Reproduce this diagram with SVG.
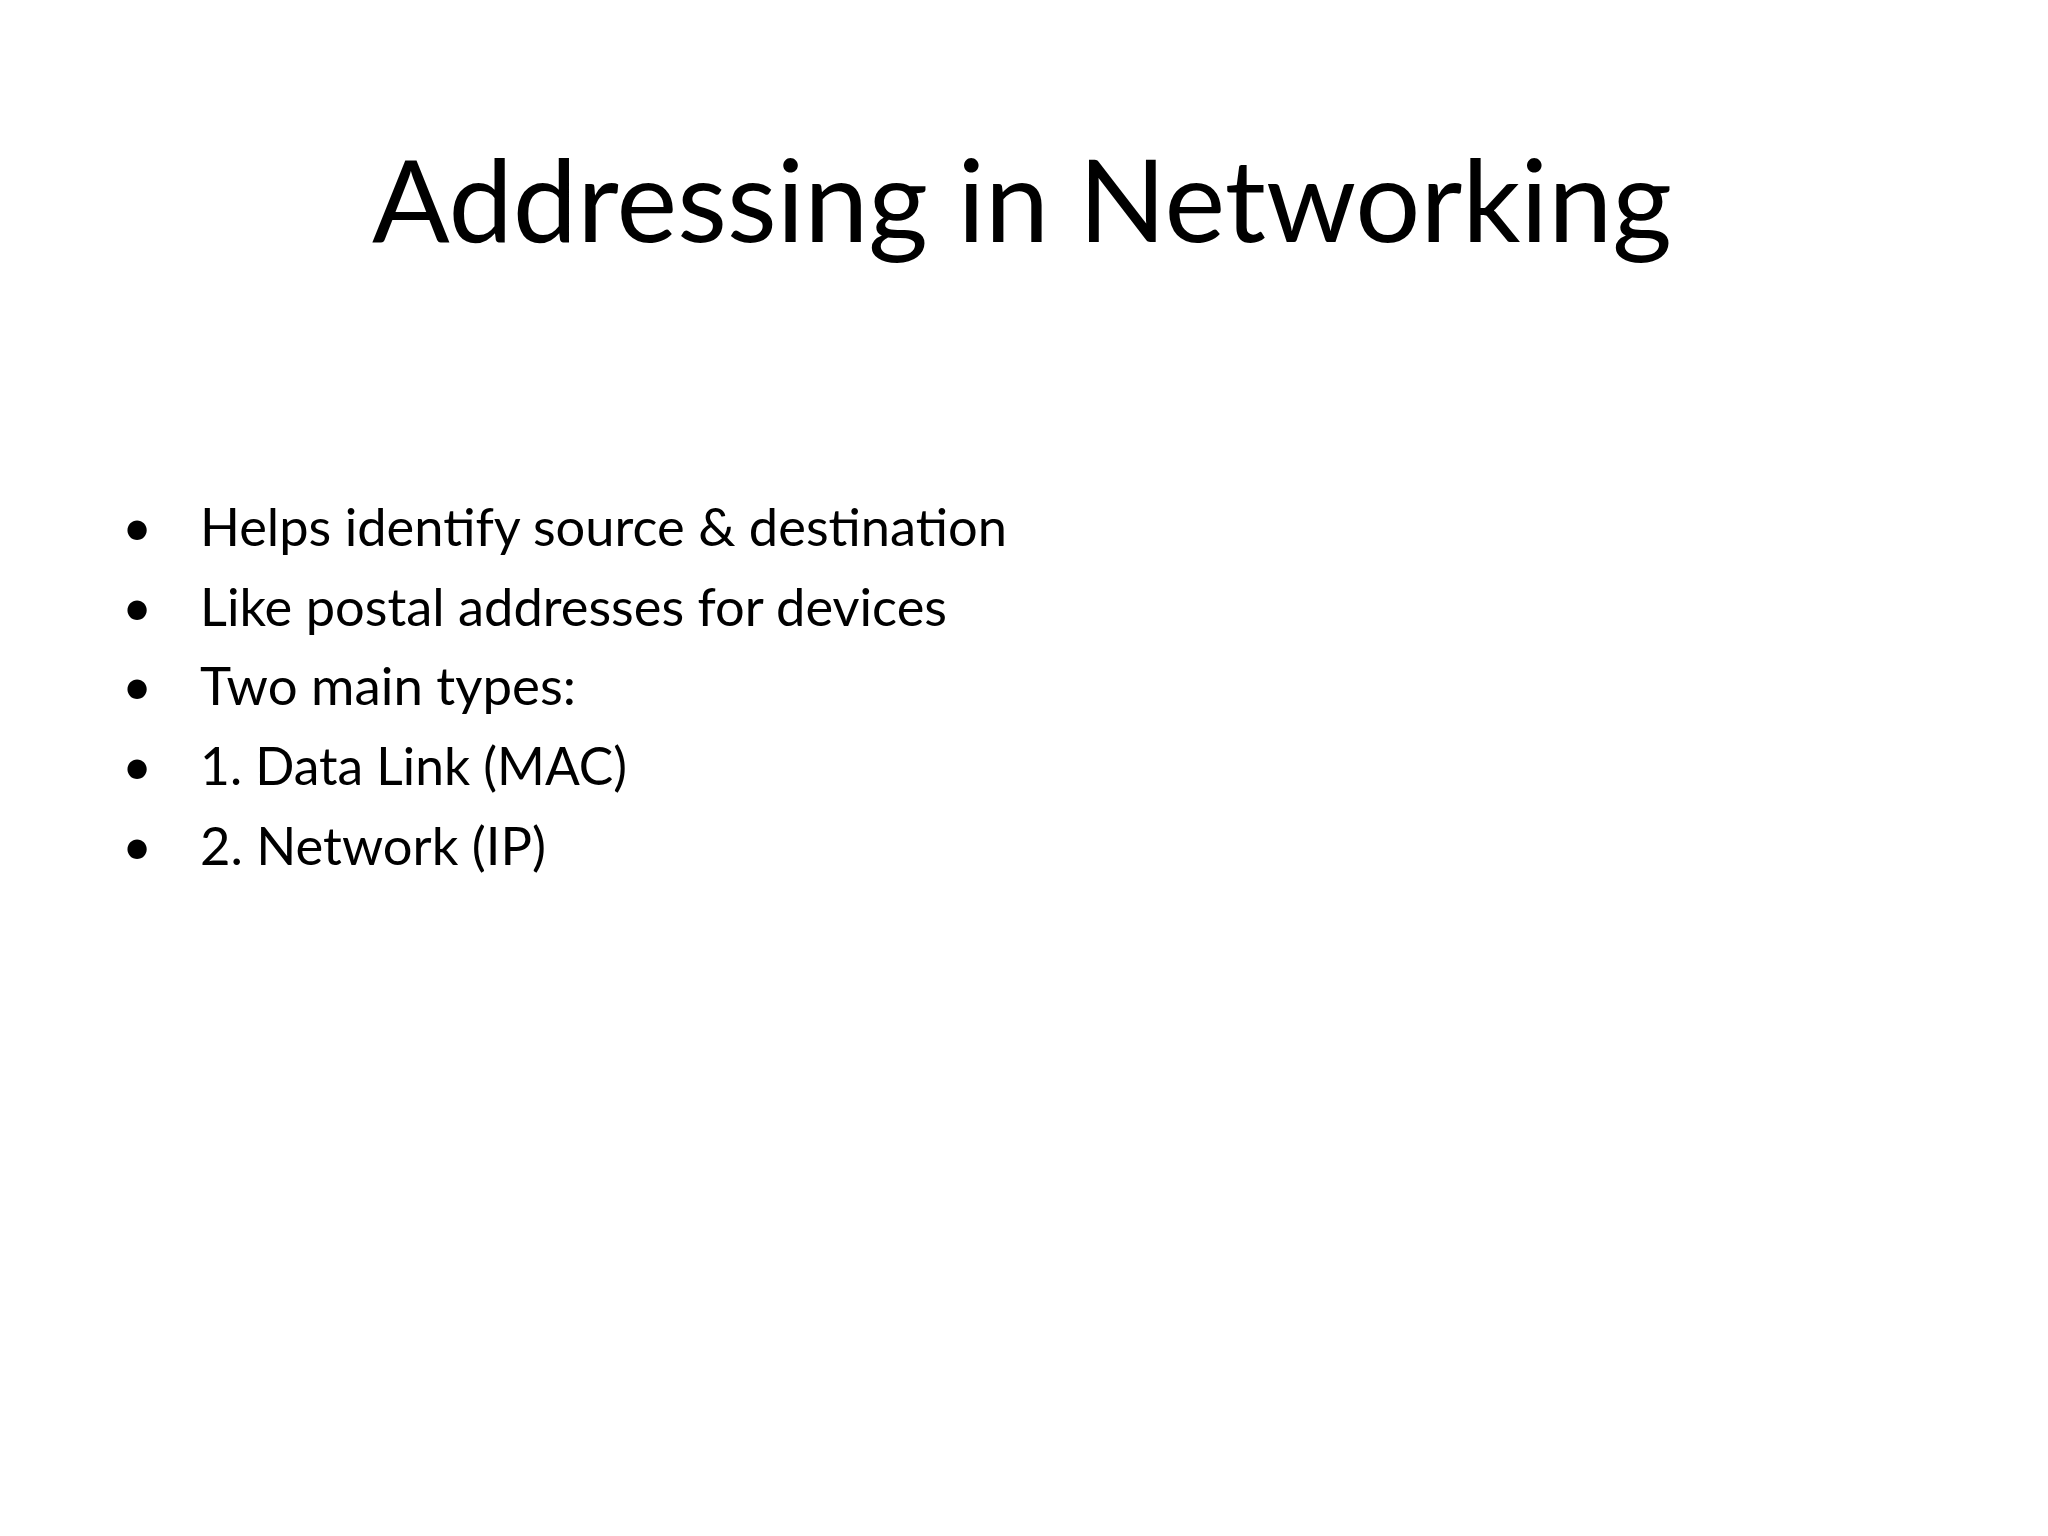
<svg xmlns="http://www.w3.org/2000/svg" width="2048" height="1536" viewBox="0 0 2048 1536">
<style>
.t{font-family:Lato,"Liberation Sans",sans-serif;fill:#000}
.b{font-family:Lato,"Liberation Sans",sans-serif;fill:#000;font-size:52px}
</style>
<rect width="2048" height="1536" fill="#fff"/>
<g id="title"><text class="t" x="372" y="242" font-size="114" textLength="1300" lengthAdjust="spacingAndGlyphs">Addressing in Networking</text></g>
<g id="bullets">
<text class="b" x="122" y="546">•</text><text class="b" x="200" y="546" textLength="807" lengthAdjust="spacingAndGlyphs">Helps identify source &amp; destination</text>
<text class="b" x="122" y="626">•</text><text class="b" x="200" y="626" textLength="747" lengthAdjust="spacingAndGlyphs">Like postal addresses for devices</text>
<text class="b" x="122" y="705">•</text><text class="b" x="200" y="705" textLength="376" lengthAdjust="spacingAndGlyphs">Two main types:</text>
<text class="b" x="122" y="785">•</text><text class="b" x="200" y="785" textLength="427" lengthAdjust="spacingAndGlyphs">1. Data Link (MAC)</text>
<text class="b" x="122" y="865">•</text><text class="b" x="200" y="865" textLength="346" lengthAdjust="spacingAndGlyphs">2. Network (IP)</text>
</g>
</svg>
